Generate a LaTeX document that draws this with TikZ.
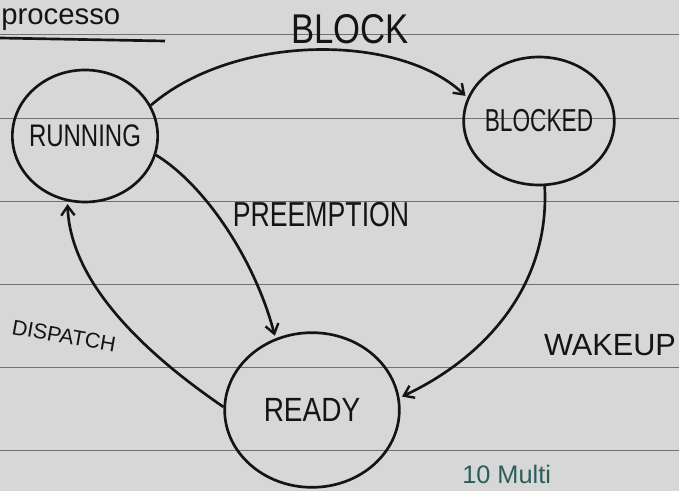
\documentclass[tikz,border=0pt]{standalone}
\usepackage{fontspec}
\setmainfont{Liberation Sans}
\usetikzlibrary{shapes.geometric,arrows.meta}
\definecolor{paper}{HTML}{D7D7D7}
\definecolor{inkc}{HTML}{141414}
\definecolor{rulec}{HTML}{707070}
\definecolor{greenink}{HTML}{2A5E5A}
\begin{document}
\begin{tikzpicture}[x=0.75pt,y=-0.75pt,
  state/.style={ellipse, draw=inkc, line width=2pt, inner sep=0pt, text=inkc},
  flow/.style={draw=inkc, line width=2pt,
    -{Straight Barb[length=7pt,width=10pt,line width=1.8pt]}, shorten >=2pt},
  lbl/.style={text=inkc, inner sep=0pt},
  rule/.style={draw=rulec, line width=0.7pt}]

% sheet and ruling
\fill[paper] (0,0) rectangle (679,491);
\useasboundingbox (0,0) rectangle (679,491);
\foreach \y in {34,118,201,284,367,450}
  \draw[rule] (0,\y) -- (679,\y);

% heading
\node[lbl, anchor=base west, font=\fontsize{22}{22}\selectfont] (title) at (1,25) {processo};
\coordinate (ulA) at (0,38);
\coordinate (ulB) at (165,41);
\draw[draw=inkc, line width=2pt] (ulA) -- (ulB);

% states (the name sits in the middle, the outline keeps its own size)
\node[state, minimum width=109pt, minimum height=99pt,
      label={[lbl, yscale=1.3, font=\fontsize{18}{18}\selectfont]center:RUNNING}] (run) at (85,136) {};
\node[state, minimum width=113pt, minimum height=96pt,
      label={[lbl, yscale=1.4, font=\fontsize{17}{17}\selectfont]center:BLOCKED}] (blk) at (539,121) {};
\node[state, minimum width=131pt, minimum height=116pt,
      label={[lbl, yscale=1.2, font=\fontsize{21}{21}\selectfont]center:READY}] (rdy) at (312,410) {};

% transitions
\draw[flow] (run.25) .. controls (235,33) and (400,33) .. (blk.162);
\draw[flow] (run.-15) .. controls (205,185) and (255,260) .. (rdy.117);
\draw[flow] (rdy.178) .. controls (140,350) and (70,280) .. (run.-105);
\draw[flow] (blk.-85) .. controls (550,290) and (480,360) .. (rdy.8);

% transition labels
\node[lbl, yscale=1.2, font=\fontsize{26}{26}\selectfont] (lblock) at (350,29) {BLOCK};
\node[lbl, yscale=1.3, font=\fontsize{20}{20}\selectfont] (lpre) at (321,215) {PREEMPTION};
\node[lbl, font=\fontsize{16}{16}\selectfont, rotate=-10] (ldisp) at (64,336) {DISPATCH};
\node[lbl, font=\fontsize{23}{23}\selectfont] (lwake) at (610,345) {WAKEUP};

% next note along the bottom edge
\node[text=greenink, inner sep=0pt, anchor=base west,
      font=\fontsize{19}{19}\selectfont] (note) at (462,484) {10 Multi};
\end{tikzpicture}
\end{document}
